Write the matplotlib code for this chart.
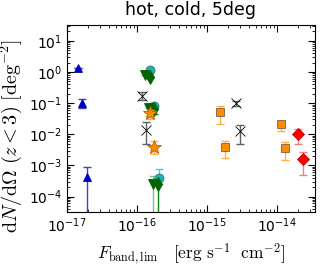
import matplotlib
matplotlib.use("Agg")
import matplotlib.pyplot as plt
import numpy as np

plt.rcParams['mathtext.fontset'] = 'cm'
plt.rcParams['font.family'] = ['DejaVu Sans']

# Series: (flux limit, density, lower err value, upper err value)
tri_up_x = [1.45e-17, 1.65e-17, 1.9e-17]
tri_up_y = [1.35, 0.1, 4.4e-4]
tri_up_lo = [1.35, 0.068, 1e-6]
tri_up_hi = [1.35, 0.14, 9e-4]

circ_x = [1.55e-16, 1.75e-16, 2.05e-16]
circ_y = [1.2, 0.08, 3.9e-4]
circ_lo = [1.2, 0.08, 2.6e-4]
circ_hi = [1.2, 0.08, 7.5e-4]

tri_dn_x = [1.3e-16, 1.5e-16, 1.7e-16]
tri_dn_y = [0.78, 0.068, 2.5e-4]
tri_dn_lo = [0.78, 0.04, 1e-6]
tri_dn_hi = [0.78, 0.068, 4.5e-4]

dia_g_x = [1.55e-16, 1.78e-16, 2.02e-16]
dia_g_y = [0.68, 0.065, 2.5e-4]
dia_g_lo = [0.68, 0.045, 1e-6]
dia_g_hi = [0.68, 0.065, 4.0e-4]

star_x = [1.55e-16, 1.75e-16]
star_y = [0.049, 3.8e-3]
star_lo = [0.03, 2.4e-3]
star_hi = [0.06, 6e-3]

x_x = [1.19e-16, 1.33e-16, 2.6e-15, 2.95e-15]
x_y = [0.17, 0.0135, 0.098, 0.0125]
x_lo = [0.13, 4.8e-3, 0.08, 4.8e-3]
x_hi = [0.22, 0.025, 0.12, 0.02]

sq_x = [1.53e-15, 1.8e-15, 1.14e-14, 1.3e-14]
sq_y = [0.052, 4.0e-3, 0.021, 3.7e-3]
sq_lo = [0.022, 1.7e-3, 0.013, 1.5e-3]
sq_hi = [0.08, 6e-3, 0.025, 5.5e-3]

dr_x = [1.98e-14, 2.33e-14]
dr_y = [0.01, 1.6e-3]
dr_lo = [5e-3, 5e-4]
dr_hi = [0.015, 2.8e-3]

fig = plt.figure(figsize=(3.32, 2.67), dpi=100)
ax = fig.add_axes([0.2018, 0.206, 0.747, 0.700])


def draw(xs, ys, lo, hi, marker, color, ecolor, ms, mec, zo=3):
    ys = np.array(ys)
    yerr = [ys - np.array(lo), np.array(hi) - ys]
    ax.errorbar(xs, ys, yerr=yerr, fmt='none', ecolor=ecolor, elinewidth=1.0,
                capsize=3, capthick=1.0, zorder=zo - 1)
    ax.plot(xs, ys, linestyle='none', marker=marker, color=color, ms=ms,
            mec=mec, mew=0.6, zorder=zo)


draw(tri_up_x, tri_up_y, tri_up_lo, tri_up_hi, '^', '#0000c0', '#4040d0', 5.5, '#0000c0')
draw(tri_dn_x, tri_dn_y, tri_dn_lo, tri_dn_hi, 'v', '#006400', '#80c080', 7, '#006400')
draw(dia_g_x, dia_g_y, dia_g_lo, dia_g_hi, 'd', '#006400', '#108010', 7, '#006400')
draw(circ_x, circ_y, circ_lo, circ_hi, 'o', '#20b0b0', '#40d0d0', 6.5, '#208080', zo=2)
draw(star_x, star_y, star_lo, star_hi, '*', '#ff8c00', '#ffb050', 10, '#b06000', zo=4)
draw(x_x, x_y, x_lo, x_hi, 'x', 'black', '#606060', 7, 'black')
draw(sq_x, sq_y, sq_lo, sq_hi, 's', '#ff8c00', '#ffb050', 6, '#806040')
draw(dr_x, dr_y, dr_lo, dr_hi, 'D', '#ff0000', '#f08080', 6, '#c00000')

ax.set_xscale('log')
ax.set_yscale('log')
ax.set_xlim(1e-17, 3.5e-14)
ax.set_ylim(3.2e-5, 32)
ax.tick_params(which='both', direction='in', top=True, right=True, labelsize=10)
ax.tick_params(which='major', length=5)
ax.tick_params(which='minor', length=2.5)
ax.set_title('hot, cold, 5deg', fontsize=12.5, pad=7)
ax.set_xlabel(r'$F_{\rm band,lim}\ \ \ [{\rm erg\ s^{-1}\ \ cm^{-2}}]$', fontsize=12.5, labelpad=4)
ax.set_ylabel(r'${\rm d}N/{\rm d}\Omega\ (z<3)\ [{\rm deg^{-2}}]$', fontsize=14.5)
ax.yaxis.set_label_coords(-0.175, 0.405)

fig.savefig('out.png', dpi=100)
